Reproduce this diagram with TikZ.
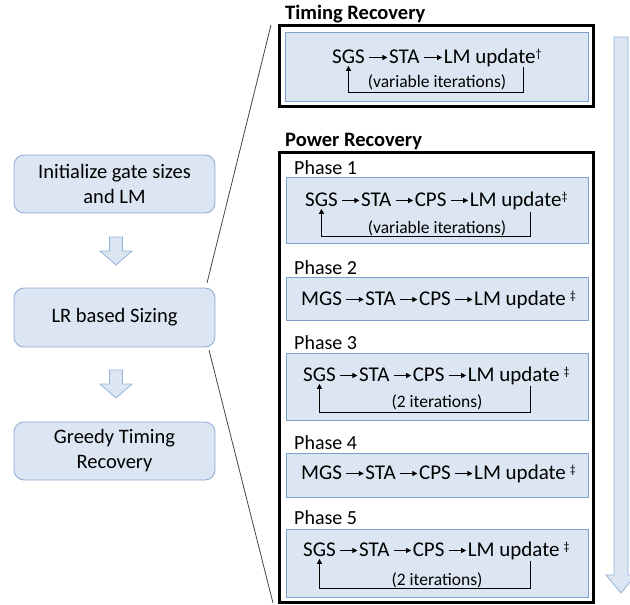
\documentclass[tikz,border=0pt]{standalone}
\usepackage{fontspec}
\setmainfont{Carlito}
\usetikzlibrary{positioning,arrows.meta}
\definecolor{bxfill}{RGB}{220,230,242}
\definecolor{bxline}{RGB}{126,160,204}
\definecolor{lbline}{RGB}{140,170,210}
\definecolor{arline}{RGB}{149,179,215}
\definecolor{diag}{RGB}{70,70,70}
\tikzset{
  outerbox/.style={draw=black, line width=3pt, inner sep=0pt, minimum width=314pt},
  pbox/.style={draw=bxline, fill=bxfill, line width=0.8pt, inner sep=0pt, minimum width=302pt},
  lbox/.style={draw=lbline, fill=bxfill, line width=0.8pt, rounded corners=10pt, inner sep=0pt,
    minimum width=201pt, minimum height=58pt, align=center, font=\fontsize{20.5}{25}\selectfont},
  ttl/.style={inner sep=0pt, anchor=base west, font=\fontsize{20.5}{25}\selectfont\bfseries},
  plabel/.style={inner sep=0pt, anchor=base west, font=\fontsize{20}{24}\selectfont},
  word/.style={inner sep=0pt, anchor=base west, font=\fontsize{21}{25}\selectfont},
  subtext/.style={inner sep=0pt, anchor=base, font=\fontsize{17.5}{21}\selectfont},
  flow/.style={line width=0.9pt, -{Triangle[length=5pt,width=5pt]}},
  backloop/.style={line width=0.9pt, -{Triangle[length=5pt,width=5pt]}},
  blockarrow/.style={draw=arline, fill=bxfill, line width=0.8pt, line join=miter},
  diagline/.style={draw=diag, line width=0.8pt},
}
\newcommand{\wgap}{23pt}
\newcommand{\mymark}[1]{\raisebox{6pt}{\fontsize{12}{13}\selectfont #1}}
\begin{document}
\begin{tikzpicture}[x=1pt,y=-1pt]
\useasboundingbox (0,0) rectangle (630,605);
\fill[white] (0,0) rectangle (630,605);

% left column
\node[lbox] (init) at (114.5,184) {Initialize gate sizes\\and LM};
\node[lbox, minimum height=59pt] (lr) at (114.5,317.5) {LR based Sizing};
\node[lbox] (greedy) at (114.5,451) {Greedy Timing\\Recovery};
\coordinate (a1) at (116,237);
\coordinate (a2) at (116,370);
\draw[blockarrow] (a1) ++(-6.5,0) -- ++(13,0) -- ++(0,14) -- ++(9.5,0) -- ++(-16,14) -- ++(-16,-14) -- ++(9.5,0) -- cycle;
\draw[blockarrow] (a2) ++(-6.5,0) -- ++(13,0) -- ++(0,14) -- ++(9.5,0) -- ++(-16,14) -- ++(-16,-14) -- ++(9.5,0) -- cycle;

% zoom lines
\coordinate (d1a) at (207,283);
\coordinate (d1b) at (271,25);
\coordinate (d2a) at (209,350);
\coordinate (d2b) at (273,603);
\draw[diagline] (d1a) -- (d1b);
\draw[diagline] (d2a) -- (d2b);

% big right arrow
\coordinate (ra) at (621,37);
\draw[blockarrow] (ra) ++(-7,0) -- ++(14,0) -- ++(0,538) -- ++(8,0) -- ++(-15,18) -- ++(-15,-18) -- ++(8,0) -- cycle;

% Timing recovery
\node[ttl] (ttr) at (285,19.5) {Timing Recovery};
\node[outerbox, minimum height=81pt] (tro) at (436.5,66) {};
\node[pbox, minimum width=303pt, minimum height=69pt] (tri) at (436.5,66.5) {};
\node[word] (ts) at (332,63.5) {SGS};
\node[word, base right=24pt of ts] (tt) {STA};
\node[word, base right=24pt of tt] (tl) {LM update\mymark{†}};
\draw[flow] ([xshift=4pt,yshift=6pt]ts.base east) -- ([xshift=-1.5pt,yshift=6pt]tt.base west);
\draw[flow] ([xshift=4pt,yshift=6pt]tt.base east) -- ([xshift=-1.5pt,yshift=6pt]tl.base west);
\node[subtext] (tsub) at (437,87) {(variable iterations)};
\coordinate (tlr) at (523,67);
\draw[backloop] (tlr) -- ++(0,25) -| ([yshift=-2pt]ts.south);

% Power recovery
\node[ttl] (ptr) at (285,146) {Power Recovery};
\node[outerbox, minimum height=450pt] (pro) at (436.5,377.5) {};

% Phase 1
\node[plabel] (l1) at (294,174.5) {Phase 1};
\node[pbox, minimum height=66pt] (b1) at (437,210) {};
\node[word] (s1) at (305,206.5) {SGS};
\node[word, base right=\wgap of s1] (t1) {STA};
\node[word, base right=\wgap of t1] (c1) {CPS};
\node[word, base right=\wgap of c1] (m1) {LM update\mymark{‡}};
\draw[flow] ([xshift=4pt,yshift=6pt]s1.base east) -- ([xshift=-1.5pt,yshift=6pt]t1.base west);
\draw[flow] ([xshift=4pt,yshift=6pt]t1.base east) -- ([xshift=-1.5pt,yshift=6pt]c1.base west);
\draw[flow] ([xshift=4pt,yshift=6pt]c1.base east) -- ([xshift=-1.5pt,yshift=6pt]m1.base west);
\node[subtext] (sub1) at (437,233) {(variable iterations)};
\coordinate (r1) at (530,212);
\draw[backloop] (r1) -- ++(0,24) -| ([yshift=-2pt]s1.south);

% Phase 2
\node[plabel] (l2) at (294,274.5) {Phase 2};
\node[pbox, minimum height=43pt] (b2) at (437,298.5) {};
\node[word] (s2) at (301,305.5) {MGS};
\node[word, base right=\wgap of s2] (t2) {STA};
\node[word, base right=\wgap of t2] (c2) {CPS};
\node[word, base right=\wgap of c2] (m2) {LM update\hspace{4pt}\mymark{‡}};
\draw[flow] ([xshift=4pt,yshift=6pt]s2.base east) -- ([xshift=-1.5pt,yshift=6pt]t2.base west);
\draw[flow] ([xshift=4pt,yshift=6pt]t2.base east) -- ([xshift=-1.5pt,yshift=6pt]c2.base west);
\draw[flow] ([xshift=4pt,yshift=6pt]c2.base east) -- ([xshift=-1.5pt,yshift=6pt]m2.base west);

% Phase 3
\node[plabel] (l3) at (294,349.5) {Phase 3};
\node[pbox, minimum height=67pt] (b3) at (437,386.5) {};
\node[word] (s3) at (303,381.5) {SGS};
\node[word, base right=\wgap of s3] (t3) {STA};
\node[word, base right=\wgap of t3] (c3) {CPS};
\node[word, base right=\wgap of c3] (m3) {LM update\hspace{4pt}\mymark{‡}};
\draw[flow] ([xshift=4pt,yshift=6pt]s3.base east) -- ([xshift=-1.5pt,yshift=6pt]t3.base west);
\draw[flow] ([xshift=4pt,yshift=6pt]t3.base east) -- ([xshift=-1.5pt,yshift=6pt]c3.base west);
\draw[flow] ([xshift=4pt,yshift=6pt]c3.base east) -- ([xshift=-1.5pt,yshift=6pt]m3.base west);
\node[subtext] (sub3) at (437,407) {(2 iterations)};
\coordinate (r3) at (530,386);
\draw[backloop] (r3) -- ++(0,26) -| ([yshift=-2pt]s3.south);

% Phase 4
\node[plabel] (l4) at (294,449.5) {Phase 4};
\node[pbox, minimum height=44pt] (b4) at (437,475) {};
\node[word] (s4) at (301,479.5) {MGS};
\node[word, base right=\wgap of s4] (t4) {STA};
\node[word, base right=\wgap of t4] (c4) {CPS};
\node[word, base right=\wgap of c4] (m4) {LM update\hspace{4pt}\mymark{‡}};
\draw[flow] ([xshift=4pt,yshift=6pt]s4.base east) -- ([xshift=-1.5pt,yshift=6pt]t4.base west);
\draw[flow] ([xshift=4pt,yshift=6pt]t4.base east) -- ([xshift=-1.5pt,yshift=6pt]c4.base west);
\draw[flow] ([xshift=4pt,yshift=6pt]c4.base east) -- ([xshift=-1.5pt,yshift=6pt]m4.base west);

% Phase 5
\node[plabel] (l5) at (294,524.5) {Phase 5};
\node[pbox, minimum height=68pt] (b5) at (437,563) {};
\node[word] (s5) at (303,556.5) {SGS};
\node[word, base right=\wgap of s5] (t5) {STA};
\node[word, base right=\wgap of t5] (c5) {CPS};
\node[word, base right=\wgap of c5] (m5) {LM update\hspace{4pt}\mymark{‡}};
\draw[flow] ([xshift=4pt,yshift=6pt]s5.base east) -- ([xshift=-1.5pt,yshift=6pt]t5.base west);
\draw[flow] ([xshift=4pt,yshift=6pt]t5.base east) -- ([xshift=-1.5pt,yshift=6pt]c5.base west);
\draw[flow] ([xshift=4pt,yshift=6pt]c5.base east) -- ([xshift=-1.5pt,yshift=6pt]m5.base west);
\node[subtext] (sub5) at (437,585) {(2 iterations)};
\coordinate (r5) at (530,561);
\draw[backloop] (r5) -- ++(0,27) -| ([yshift=-2pt]s5.south);
\end{tikzpicture}
\end{document}
